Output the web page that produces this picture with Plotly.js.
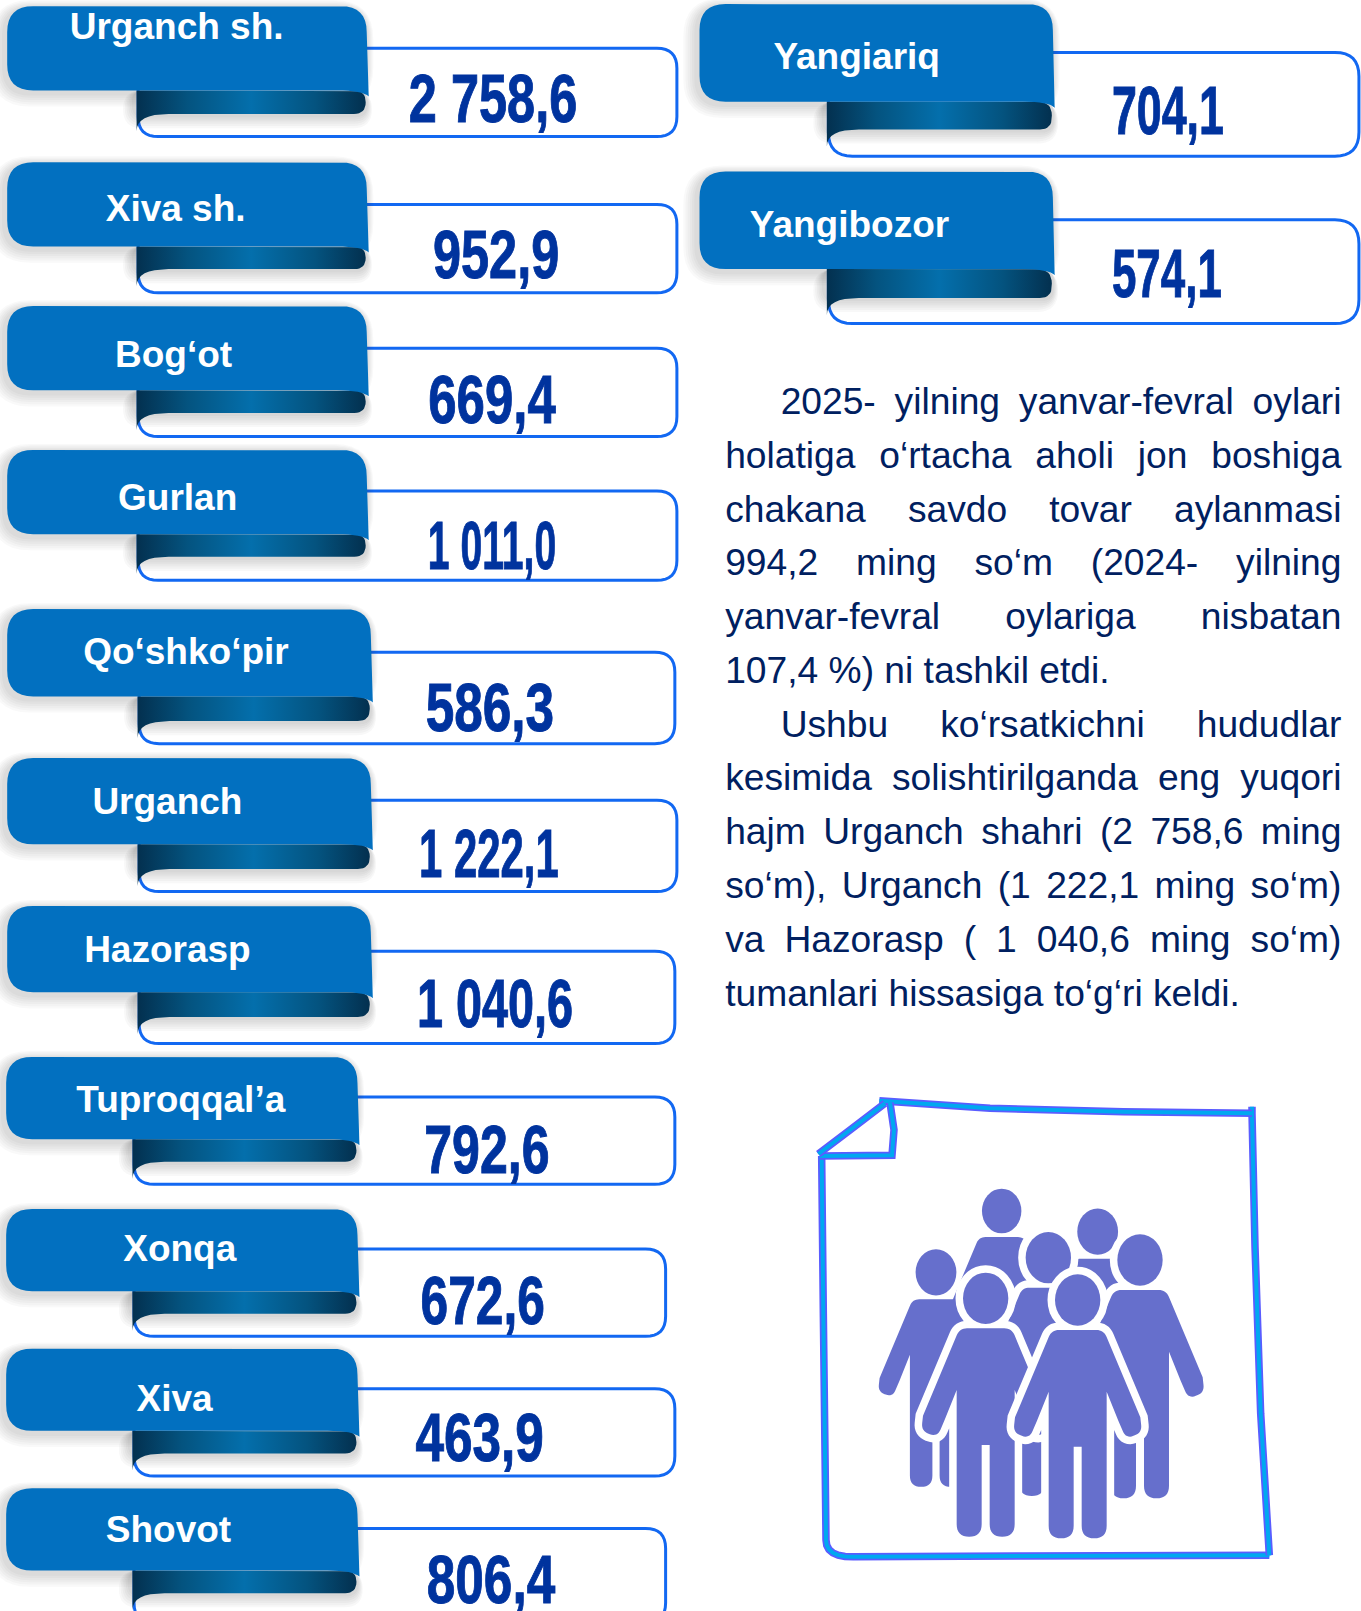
<!DOCTYPE html>
<html><head><meta charset="utf-8">
<script src="https://cdn.plot.ly/plotly-3.0.1.min.js"></script>
<style>html,body{margin:0;padding:0;background:#fff;overflow:hidden}#chart{width:1361px;height:1611px}</style>
</head><body><div id="chart"></div>
<script>
// ---- content ----
const categories = ["Urganch sh.","Xiva sh.","Bog‘ot","Gurlan","Qo‘shko‘pir","Urganch","Hazorasp","Tuproqqal’a","Xonqa","Xiva","Shovot","Yangiariq","Yangibozor"];
const values = ["2 758,6","952,9","669,4","1 011,0","586,3","1 222,1","1 040,6","792,6","672,6","463,9","806,4","704,1","574,1"];
const paragraph = [
 "2025- yilning yanvar-fevral oylari",
 "holatiga o‘rtacha aholi jon boshiga",
 "chakana savdo tovar aylanmasi",
 "994,2 ming so‘m (2024- yilning",
 "yanvar-fevral oylariga nisbatan",
 "107,4 %) ni tashkil etdi.",
 "Ushbu ko‘rsatkichni hududlar",
 "kesimida solishtirilganda eng yuqori",
 "hajm Urganch shahri (2 758,6 ming",
 "so‘m), Urganch (1 222,1 ming so‘m)",
 "va Hazorasp ( 1 040,6 ming so‘m)",
 "tumanlari hissasiga to‘g‘ri keldi."
];
// ---- layout (measured on the reference, 1325-wide units, scaled by k) ----
const k = 1361/1325;
const frontX0 = [7,7,7,7,7,7,7,6,6,6,6,681,681];
const frontX1 = [357,357,357,357,361,361,361,348,348,348,348,1025,1025];
const frontY0 = [6,158,298,438,593,738,882,1029,1177,1313,1449,4,167];
const frontY1 = [88,240,380,520,678,822,966,1109,1257,1393,1529,99,262];
const darkX0  = [133,133,133,133,134,134,134,129,129,129,129,805,805];
const darkY1  = [111,262,402,542,702,846,990,1131,1279,1415,1551,126,290];
const boxTop  = [47,199,339,478,635,779,926,1068,1216,1352,1488,51,214];
const boxBot  = [133,285,425,565,724,868,1016,1153,1301,1437,1580,152,315];
const boxRight= [659,659,659,659,657,659,657,657,648,657,648,1323,1323];
const labelX  = [172,171,169,173,181,163,163,176,175,170,164,834,827];
const labelY  = [28.5,206.5,348.5,487.5,637.5,783.5,927.5,1073.5,1218.5,1364.5,1492.5,58.5,221.5];
const numX    = [480,483,479,479,477,476,482,474,470,467,478,1137,1136];
const numY    = [102,254,395,537,695,837,983,1125,1272,1406,1544,114,273];
const numW    = [164,123,124,125,125,136,152,122,121,125,125,109,107];
const paraY   = [394,447,499,551,603,656,708,760,813,865,918,970];
const paraIndented = [0,6];
const paraUnjustified = [5,11];
const paraLeft = 706, paraRight = 1306, paraIndentLeft = 760;
// people: head centre (zoom units of the illustration) and scale, drawn back to front
const peopleX = [635,923,438,1050,775,587,863];
const peopleY = [393,455,577,540,533,655,660];
const peopleS = [.87,.9,.9,1,1,1,1];
const peopleHalo = [0,0,0,1,1,1,1];

// ---- geometry helpers ----
function quad(p0,c,p1,n=8){const o=[];for(let i=0;i<=n;i++){const t=i/n,u=1-t;o.push([u*u*p0[0]+2*u*t*c[0]+t*t*p1[0],u*u*p0[1]+2*u*t*c[1]+t*t*p1[1]]);}return o;}
function roundPoly(P){const o=[],N=P.length;for(let i=0;i<N;i++){const a=P[(i+N-1)%N],b=P[i],c=P[(i+1)%N],r=b[2]||0;
  if(!r){o.push([b[0],b[1]]);continue;}
  const la=Math.hypot(a[0]-b[0],a[1]-b[1]),lc=Math.hypot(c[0]-b[0],c[1]-b[1]),d=Math.min(r,la/2,lc/2);
  const p0=[b[0]+(a[0]-b[0])*d/la,b[1]+(a[1]-b[1])*d/la],p1=[b[0]+(c[0]-b[0])*d/lc,b[1]+(c[1]-b[1])*d/lc];
  o.push(...quad(p0,b,p1));}return o;}
const toPath=pts=>'M'+pts.map(p=>p[0].toFixed(2)+','+p[1].toFixed(2)).join('L')+'Z';
const toOpen=pts=>'M'+pts.map(p=>p[0].toFixed(2)+','+p[1].toFixed(2)).join('L');
const rect=(x0,y0,x1,y1,r)=>roundPoly([[x0,y0,r],[x1,y0,r],[x1,y1,r],[x0,y1,r]]);
const poly=(pts,extra)=>Object.assign({type:'scatter',mode:'lines',x:pts.map(p=>p[0]).concat(pts[0][0]),y:pts.map(p=>p[1]).concat(pts[0][1]),fill:'toself',line:{width:0},hoverinfo:'skip',showlegend:false},extra);

const shapes=[],traces=[],frontTraces=[];
const BLUE='#0270c0',FRAME='#1268f2';
categories.forEach((c,i)=>{
  const x0=frontX0[i]*k,x1=frontX1[i]*k,y0=frontY0[i]*k,y1=frontY1[i]*k,dx=darkX0[i]*k,yd=darkY1[i]*k;
  const bl=dx+1.5,bt=boxTop[i]*k,bb=boxBot[i]*k,br=boxRight[i]*k;
  const rr=(bb-bt)>95?24:20;
  shapes.push({type:'path',layer:'below',path:toPath(rect(bl,bt,br,bb,rr)),fillcolor:'#fff',line:{color:FRAME,width:3}});
  for(let e=1;e<=6;e++){
    const g=e*2.2;
    shapes.push({type:'path',layer:'below',path:toPath(rect(x0-3-g,y0+2-g*.6,x1+g*.5,y1+3+g,26+g)),fillcolor:'#444',opacity:.03,line:{width:0}});
    shapes.push({type:'path',layer:'below',path:toPath(rect(dx-3-g*.8,y1,x1+g*.4,yd+1+g,10+g)),fillcolor:'#444',opacity:.035,line:{width:0}});
  }
  // dark fold of the ribbon
  const dark=roundPoly([[dx,y1,0],[x1-1,y1,16],[x1-1,yd,12],[dx+32,yd,0]]).concat(quad([dx+32,yd],[dx,yd],[dx,yd+17]));
  traces.push(poly(dark,{fillgradient:{type:'horizontal',colorscale:[[0,'#03304f'],[.22,'#04537f'],[.5,'#046fac'],[.78,'#04537f'],[1,'#03304f']]}}));
  // front of the ribbon
  const front=quad([x0,y0+26],[x0,y0],[x0+26,y0]).concat(quad([x1-26,y0],[x1,y0],[x1,y0+26]),quad([x1+1,y1-10],[x1+1,y1],[x1+2,y1+6]),quad([x1+2,y1+6],[x1-4,y1],[x1-30,y1]),quad([x0+26,y1],[x0,y1],[x0,y1-26]));
  frontTraces.push(poly(front,{fillcolor:BLUE}));
});
traces.push(...frontTraces);
const NUM_TRACE=traces.length;
traces.push({type:'scatter',mode:'text',x:numX.map(v=>v*k),y:numY.map(v=>v*k),text:values,textposition:'middle center',cliponaxis:false,
  textfont:{family:'"Liberation Sans Narrow","Liberation Sans",Arial,sans-serif',size:68,color:'#00339e',weight:700},hoverinfo:'skip',showlegend:false});
traces.push({type:'scatter',mode:'text',x:labelX.map(v=>v*k),y:labelY.map(v=>v*k),text:categories,textposition:'middle center',
  textfont:{family:'"Liberation Sans",Arial,sans-serif',size:37,color:'#fff',weight:700},hoverinfo:'skip',showlegend:false});
const PARA_TRACE=traces.length;
traces.push({type:'scatter',mode:'text',x:paragraph.map((_,i)=>(paraIndented.includes(i)?paraIndentLeft:paraLeft)*k),y:paraY.map(v=>v*k),text:paragraph,textposition:'middle right',
  textfont:{family:'"Liberation Sans",Arial,sans-serif',size:37.2,color:'#002060'},hoverinfo:'skip',showlegend:false});

// ---- illustration ----
const ix=v=>790+v/3, iy=v=>1080+v/3;
const map=pts=>pts.map(p=>[ix(p[0]),iy(p[1])]);
function person(cx,cy,s){
  const R=[[78,90,22],[188,352,0],[193,398,24],[145,416,24],[122,362,0],[87,275,0],[87,715,37.5],[12,715,37.5],[12,440,0]];
  const L=R.slice().reverse().map(p=>[-p[0],p[1],p[2]]);
  return map(roundPoly(R.concat(L).map(p=>[cx+p[0]*s,cy+p[1]*s,p[2]*s])));
}
const PERSON='#666fcc';
peopleX.forEach((cx,i)=>{
  const cy=peopleY[i],s=peopleS[i],b=person(cx,cy,s),head={type:'circle',x0:ix(cx-68*s),x1:ix(cx+68*s),y0:iy(cy-77*s),y1:iy(cy+77*s)};
  if(peopleHalo[i]){
    shapes.push({type:'path',layer:'above',path:toPath(b),fillcolor:'#fff',line:{color:'#fff',width:15}});
    shapes.push(Object.assign({},head,{layer:'above',fillcolor:'#fff',line:{color:'#fff',width:15}}));
  }
  shapes.push({type:'path',layer:'above',path:toPath(b),fillcolor:PERSON,line:{width:0}});
  shapes.push(Object.assign({},head,{layer:'above',fillcolor:PERSON,line:{width:0}}));
});
// sketched sheet
const sheet=[
 [[95,228],[100,700],[106,1200],[108,1380]].concat(quad([108,1380],[108,1432],[190,1430],6),[[700,1428],[1438,1426]]),
 [[1438,1426],[1412,1000],[1395,500],[1386,100],[1386,80]],
 [[1386,100],[1000,95],[600,85],[268,62]],
 [[300,68],[312,150],[306,226],[90,228]],
 [[285,70],[180,150],[85,222]]];
sheet.forEach(l=>{const p=toOpen(map(l));
  shapes.push({type:'path',layer:'above',path:p,line:{color:'#5a5cff',width:7.5}});
  shapes.push({type:'path',layer:'above',path:p,line:{color:'#00a8f0',width:4}});
});

const layout={width:1361,height:1611,margin:{l:0,r:0,t:0,b:0},paper_bgcolor:'#fff',plot_bgcolor:'#fff',showlegend:false,
  xaxis:{range:[0,1361],visible:false,fixedrange:true},yaxis:{range:[1611,0],visible:false,fixedrange:true},shapes};

function finish(){
  const tr=document.querySelectorAll('#chart .scatterlayer .trace');
  if(!tr.length)return;
  tr[NUM_TRACE].querySelectorAll('text').forEach((t,i)=>{t.setAttribute('textLength',(numW[i]*k).toFixed(1));t.setAttribute('lengthAdjust','spacingAndGlyphs');t.style.stroke='#00339e';t.style.strokeWidth='1px';});
  tr[PARA_TRACE].querySelectorAll('text').forEach((t,i)=>{
    if(paraUnjustified.includes(i))return;
    t.style.wordSpacing='0px';
    const left=(paraIndented.includes(i)?paraIndentLeft:paraLeft)*k,target=paraRight*k-left;
    const n=paragraph[i].split(' ').length-1;
    t.style.wordSpacing=((target-t.getComputedTextLength())/n)+'px';
  });
}
Plotly.newPlot('chart',traces,layout,{displayModeBar:false,staticPlot:true}).then(finish);
</script></body></html>
